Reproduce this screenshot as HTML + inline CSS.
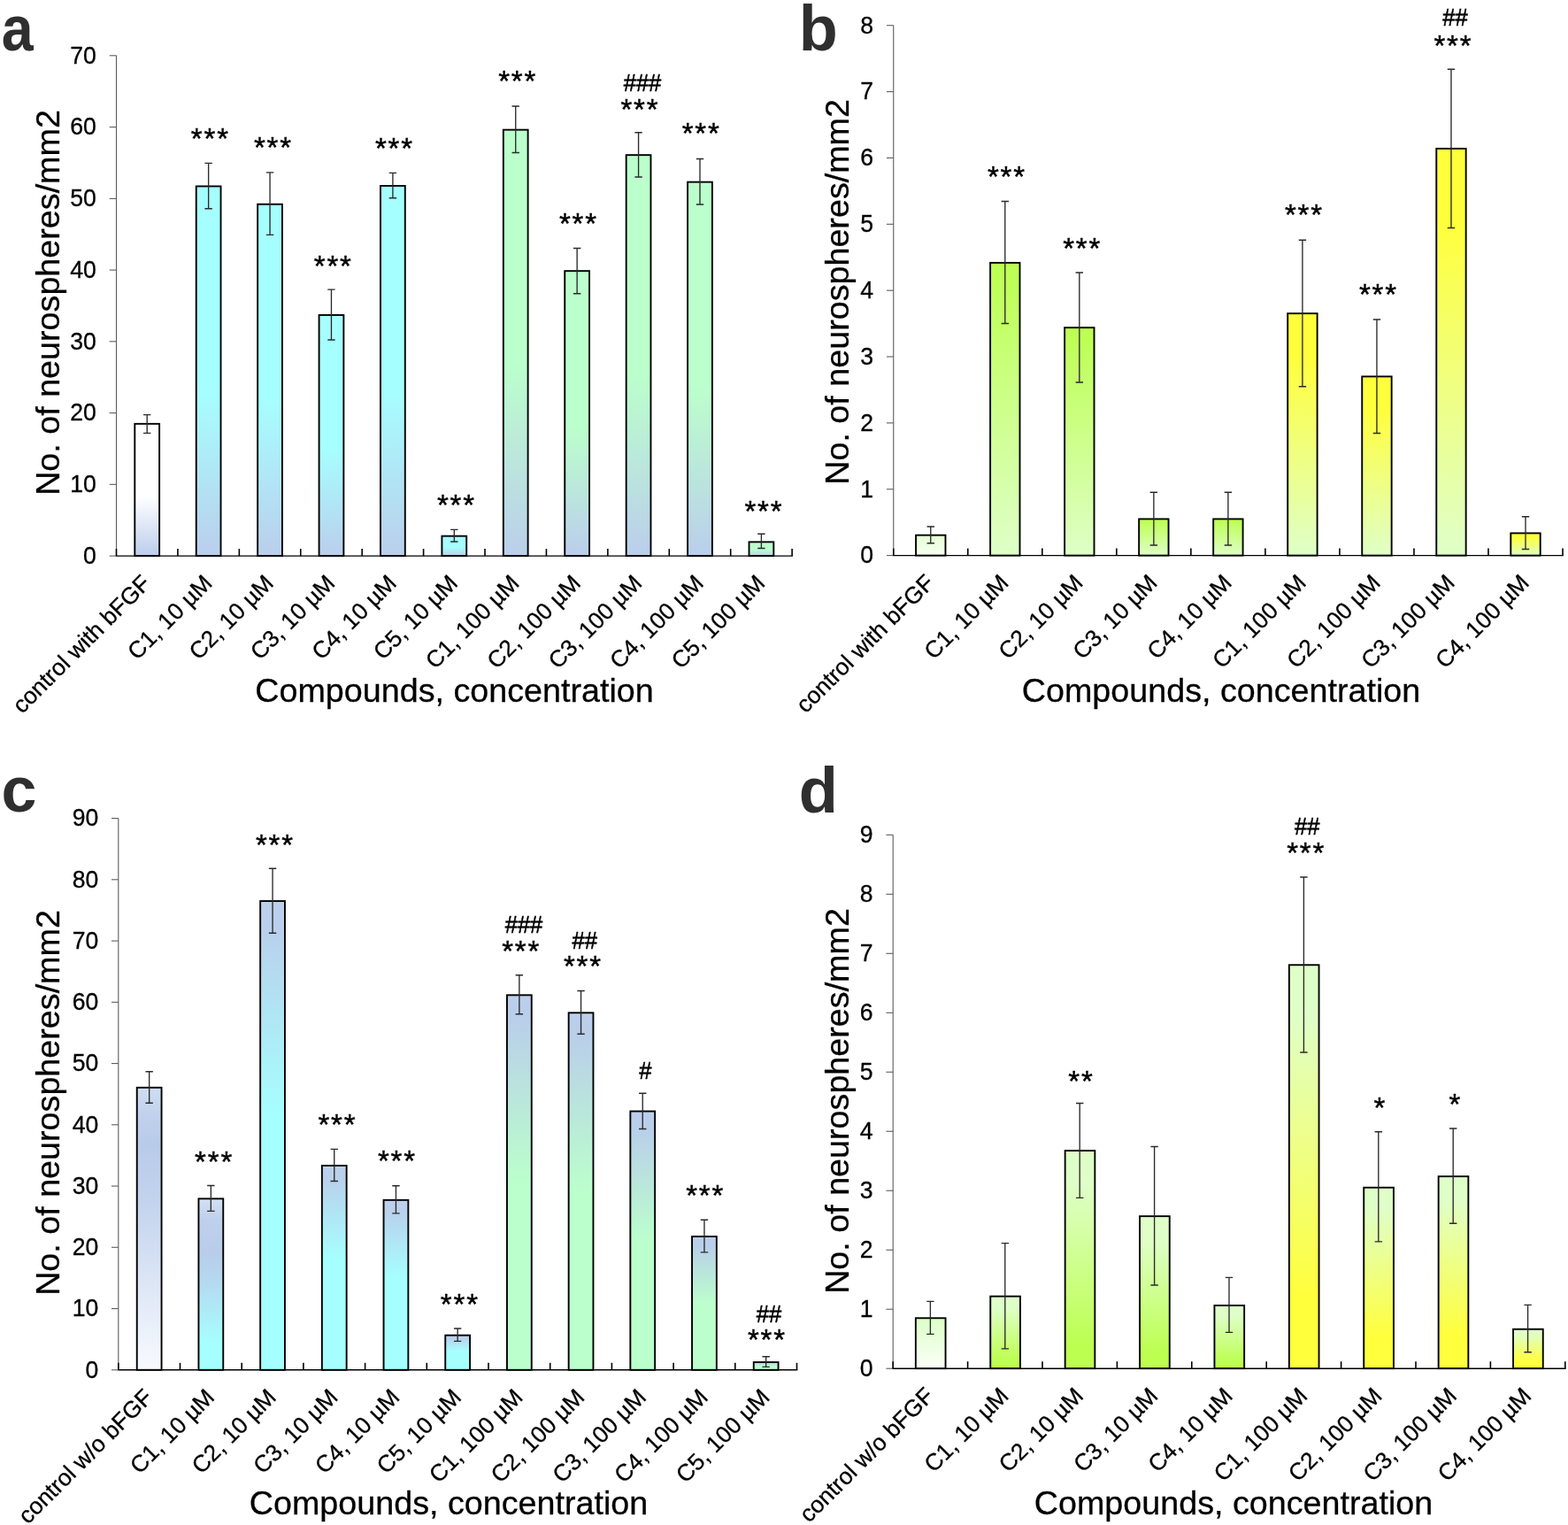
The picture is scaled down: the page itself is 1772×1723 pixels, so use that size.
<!DOCTYPE html>
<html lang="en">
<head>
<meta charset="utf-8">
<title>Neurosphere counts by compound and concentration</title>
<style>
html,body{margin:0;padding:0;background:#fff;}
body{width:1772px;height:1723px;overflow:hidden;}
svg{display:block;}
text{white-space:pre;}
</style>
</head>
<body>
<svg role="img" aria-label="Neurosphere counts, panels a to d" width="1772" height="1723" viewBox="0 0 1772 1723" font-family='"Liberation Sans", sans-serif'>
<defs>
<linearGradient id="gaw" x1="0" y1="0" x2="0" y2="1"><stop offset="0%" stop-color="#ffffff"/><stop offset="55%" stop-color="#ffffff"/><stop offset="100%" stop-color="#bccdeb"/></linearGradient>
<linearGradient id="gac" x1="0" y1="0" x2="0" y2="1"><stop offset="0%" stop-color="#a6ffff"/><stop offset="55%" stop-color="#a6ffff"/><stop offset="100%" stop-color="#bbceec"/></linearGradient>
<linearGradient id="gag" x1="0" y1="0" x2="0" y2="1"><stop offset="0%" stop-color="#bbffcc"/><stop offset="55%" stop-color="#bbffcc"/><stop offset="100%" stop-color="#bbceec"/></linearGradient>
<linearGradient id="gbw" x1="0" y1="0" x2="0" y2="1"><stop offset="0%" stop-color="#e6ffd6"/><stop offset="100%" stop-color="#f6fff0"/></linearGradient>
<linearGradient id="gby" x1="0" y1="0" x2="0" y2="1"><stop offset="0%" stop-color="#bcff50"/><stop offset="100%" stop-color="#dfffc8"/></linearGradient>
<linearGradient id="gbY" x1="0" y1="0" x2="0" y2="1"><stop offset="0%" stop-color="#ffff3c"/><stop offset="18%" stop-color="#ffff3c"/><stop offset="100%" stop-color="#dfffc8"/></linearGradient>
<linearGradient id="gcw" x1="0" y1="0" x2="0" y2="1"><stop offset="0%" stop-color="#d0def2"/><stop offset="10%" stop-color="#c0d1ec"/><stop offset="20%" stop-color="#b8cbe9"/><stop offset="40%" stop-color="#c2d3ed"/><stop offset="100%" stop-color="#f8fafe"/></linearGradient>
<linearGradient id="gcc" x1="0" y1="0" x2="0" y2="1"><stop offset="0%" stop-color="#bdd0ec"/><stop offset="6%" stop-color="#b9d0ec"/><stop offset="46%" stop-color="#a6ffff"/><stop offset="100%" stop-color="#a6ffff"/></linearGradient>
<linearGradient id="gcc2" x1="0" y1="0" x2="0" y2="1"><stop offset="0%" stop-color="#d4e1f3"/><stop offset="12%" stop-color="#bed0ec"/><stop offset="32%" stop-color="#b8cdea"/><stop offset="50%" stop-color="#b4dbf0"/><stop offset="85%" stop-color="#a6ffff"/><stop offset="100%" stop-color="#a6ffff"/></linearGradient>
<linearGradient id="gcg" x1="0" y1="0" x2="0" y2="1"><stop offset="0%" stop-color="#bccfec"/><stop offset="6%" stop-color="#b9ceea"/><stop offset="50%" stop-color="#bbffcc"/><stop offset="100%" stop-color="#bbffcc"/></linearGradient>
<linearGradient id="gdw" x1="0" y1="0" x2="0" y2="1"><stop offset="0%" stop-color="#dcffc8"/><stop offset="100%" stop-color="#fbfff8"/></linearGradient>
<linearGradient id="gdy" x1="0" y1="0" x2="0" y2="1"><stop offset="0%" stop-color="#dfffc8"/><stop offset="15%" stop-color="#dfffc8"/><stop offset="90%" stop-color="#bcff50"/><stop offset="100%" stop-color="#bcff50"/></linearGradient>
<linearGradient id="gdY" x1="0" y1="0" x2="0" y2="1"><stop offset="0%" stop-color="#dfffc8"/><stop offset="12%" stop-color="#dfffc8"/><stop offset="82%" stop-color="#ffff3c"/><stop offset="100%" stop-color="#ffff3c"/></linearGradient>
</defs>
<rect width="1772" height="1723" fill="#fff"/>
<g id="chart-a">
<text transform="translate(1.81 56.7) scale(0.902 1)" font-size="71.55" font-weight="bold" fill="#2f2f2f">a</text>
<g stroke="#5c5c5c" stroke-width="1.1" fill="none">
<line x1="131.5" y1="62.8" x2="131.5" y2="628.1"/>
<line x1="123.7" y1="628.1" x2="131.5" y2="628.1"/>
<line x1="123.7" y1="547.3" x2="131.5" y2="547.3"/>
<line x1="123.7" y1="466.6" x2="131.5" y2="466.6"/>
<line x1="123.7" y1="385.8" x2="131.5" y2="385.8"/>
<line x1="123.7" y1="305.1" x2="131.5" y2="305.1"/>
<line x1="123.7" y1="224.4" x2="131.5" y2="224.4"/>
<line x1="123.7" y1="143.6" x2="131.5" y2="143.6"/>
<line x1="123.7" y1="62.8" x2="131.5" y2="62.8"/>
</g>
<g font-size="26.6" text-anchor="end" fill="#000" stroke="#000" stroke-width="0.3">
<text transform="translate(108.9 636.92) scale(1 1.04)">0</text>
<text transform="translate(108.9 556.12) scale(1 1.04)">10</text>
<text transform="translate(108.9 475.42) scale(1 1.04)">20</text>
<text transform="translate(108.9 394.62) scale(1 1.04)">30</text>
<text transform="translate(108.9 313.92) scale(1 1.04)">40</text>
<text transform="translate(108.9 233.22) scale(1 1.04)">50</text>
<text transform="translate(108.9 152.42) scale(1 1.04)">60</text>
<text transform="translate(108.9 71.62) scale(1 1.04)">70</text>
</g>
<g stroke="#000" stroke-width="1.9">
<rect x="152.31" y="478.85" width="27.8" height="149.25" fill="url(#gaw)"/>
<rect x="221.73" y="210.45" width="27.8" height="417.65" fill="url(#gac)"/>
<rect x="291.15" y="230.75" width="27.8" height="397.35" fill="url(#gac)"/>
<rect x="360.57" y="355.95" width="27.8" height="272.15" fill="url(#gac)"/>
<rect x="429.99" y="209.95" width="27.8" height="418.15" fill="url(#gac)"/>
<rect x="499.41" y="605.65" width="27.8" height="22.45" fill="url(#gac)"/>
<rect x="568.83" y="146.65" width="27.8" height="481.45" fill="url(#gag)"/>
<rect x="638.25" y="306.15" width="27.8" height="321.95" fill="url(#gag)"/>
<rect x="707.67" y="175.15" width="27.8" height="452.95" fill="url(#gag)"/>
<rect x="777.09" y="205.65" width="27.8" height="422.45" fill="url(#gag)"/>
<rect x="846.51" y="612.35" width="27.8" height="15.75" fill="url(#gag)"/>
</g>
<g stroke="#000" fill="none">
<line x1="131" y1="628.1" x2="895.92" y2="628.1" stroke-width="1.4"/>
<line x1="131.5" y1="620.1" x2="131.5" y2="628.1" stroke-width="1.6"/>
<line x1="200.92" y1="620.1" x2="200.92" y2="628.1" stroke-width="1.6"/>
<line x1="270.34" y1="620.1" x2="270.34" y2="628.1" stroke-width="1.6"/>
<line x1="339.76" y1="620.1" x2="339.76" y2="628.1" stroke-width="1.6"/>
<line x1="409.18" y1="620.1" x2="409.18" y2="628.1" stroke-width="1.6"/>
<line x1="478.6" y1="620.1" x2="478.6" y2="628.1" stroke-width="1.6"/>
<line x1="548.02" y1="620.1" x2="548.02" y2="628.1" stroke-width="1.6"/>
<line x1="617.44" y1="620.1" x2="617.44" y2="628.1" stroke-width="1.6"/>
<line x1="686.86" y1="620.1" x2="686.86" y2="628.1" stroke-width="1.6"/>
<line x1="756.28" y1="620.1" x2="756.28" y2="628.1" stroke-width="1.6"/>
<line x1="825.7" y1="620.1" x2="825.7" y2="628.1" stroke-width="1.6"/>
<line x1="895.12" y1="620.1" x2="895.12" y2="628.1" stroke-width="1.6"/>
</g>
<g stroke="#2a2a2a" stroke-width="1.35" fill="none">
<path d="M162.01 468.6H170.41M162.01 489.4H170.41M166.21 468.6V489.4"/>
<path d="M231.43 184.4H239.83M231.43 235.7H239.83M235.63 184.4V235.7"/>
<path d="M300.85 194.8H309.25M300.85 265.4H309.25M305.05 194.8V265.4"/>
<path d="M370.27 327.1H378.67M370.27 384H378.67M374.47 327.1V384"/>
<path d="M439.69 195.3H448.09M439.69 223.7H448.09M443.89 195.3V223.7"/>
<path d="M509.11 598.3H517.51M509.11 612H517.51M513.31 598.3V612"/>
<path d="M578.53 120H586.93M578.53 172.5H586.93M582.73 120V172.5"/>
<path d="M647.95 280.5H656.35M647.95 331.75H656.35M652.15 280.5V331.75"/>
<path d="M717.37 149.75H725.77M717.37 200H725.77M721.57 149.75V200"/>
<path d="M786.79 179.5H795.19M786.79 231H795.19M790.99 179.5V231"/>
<path d="M856.21 603.25H864.61M856.21 619.5H864.61M860.41 603.25V619.5"/>
</g>
<g font-size="26.3" text-anchor="end" fill="#000" stroke="#000" stroke-width="0.3">
<text transform="translate(171.71 660.6) rotate(-45)">control with bFGF</text>
<text transform="translate(241.13 660.6) rotate(-45)">C1, 10 µM</text>
<text transform="translate(310.55 660.6) rotate(-45)">C2, 10 µM</text>
<text transform="translate(379.97 660.6) rotate(-45)">C3, 10 µM</text>
<text transform="translate(449.39 660.6) rotate(-45)">C4, 10 µM</text>
<text transform="translate(518.81 660.6) rotate(-45)">C5, 10 µM</text>
<text transform="translate(588.23 660.6) rotate(-45)">C1, 100 µM</text>
<text transform="translate(657.65 660.6) rotate(-45)">C2, 100 µM</text>
<text transform="translate(727.07 660.6) rotate(-45)">C3, 100 µM</text>
<text transform="translate(796.49 660.6) rotate(-45)">C4, 100 µM</text>
<text transform="translate(865.91 660.6) rotate(-45)">C5, 100 µM</text>
</g>
<g text-anchor="middle" fill="#000">
<text x="237.83" y="168.31" font-size="33" letter-spacing="1.85" stroke="#000" stroke-width="0.4">***</text>
<text x="308.93" y="177.81" font-size="33" letter-spacing="1.85" stroke="#000" stroke-width="0.4">***</text>
<text x="376.73" y="311.81" font-size="33" letter-spacing="1.85" stroke="#000" stroke-width="0.4">***</text>
<text x="445.93" y="179.31" font-size="33" letter-spacing="1.85" stroke="#000" stroke-width="0.4">***</text>
<text x="515.92" y="582.31" font-size="33" letter-spacing="1.85" stroke="#000" stroke-width="0.4">***</text>
<text x="585.17" y="102.81" font-size="33" letter-spacing="1.85" stroke="#000" stroke-width="0.4">***</text>
<text x="653.92" y="264.31" font-size="33" letter-spacing="1.85" stroke="#000" stroke-width="0.4">***</text>
<text transform="translate(726 102.54) scale(1 1.09)" font-size="25.6" stroke="#000" stroke-width="0.5">###</text>
<text x="723.42" y="134.71" font-size="33" letter-spacing="1.85" stroke="#000" stroke-width="0.4">***</text>
<text x="792.67" y="162.31" font-size="33" letter-spacing="1.85" stroke="#000" stroke-width="0.4">***</text>
<text x="863.42" y="589.31" font-size="33" letter-spacing="1.85" stroke="#000" stroke-width="0.4">***</text>
</g>
<text transform="translate(66.6 342) rotate(-90)" font-size="37.7" text-anchor="middle" fill="#000" stroke="#000" stroke-width="0.3">No. of neurospheres/mm2</text>
<text x="513.5" y="793" font-size="37.7" text-anchor="middle" fill="#000" stroke="#000" stroke-width="0.3">Compounds, concentration</text>
</g>
<g id="chart-b">
<text transform="translate(902.65 56.99) scale(0.996 1)" font-size="72.3" font-weight="bold" fill="#2f2f2f">b</text>
<g stroke="#5c5c5c" stroke-width="1.1" fill="none">
<line x1="1009.75" y1="28.72" x2="1009.75" y2="627.6"/>
<line x1="1001.95" y1="627.6" x2="1009.75" y2="627.6"/>
<line x1="1001.95" y1="552.74" x2="1009.75" y2="552.74"/>
<line x1="1001.95" y1="477.88" x2="1009.75" y2="477.88"/>
<line x1="1001.95" y1="403.02" x2="1009.75" y2="403.02"/>
<line x1="1001.95" y1="328.16" x2="1009.75" y2="328.16"/>
<line x1="1001.95" y1="253.3" x2="1009.75" y2="253.3"/>
<line x1="1001.95" y1="178.44" x2="1009.75" y2="178.44"/>
<line x1="1001.95" y1="103.58" x2="1009.75" y2="103.58"/>
<line x1="1001.95" y1="28.72" x2="1009.75" y2="28.72"/>
</g>
<g font-size="26.6" text-anchor="end" fill="#000" stroke="#000" stroke-width="0.3">
<text transform="translate(987.15 636.42) scale(1 1.04)">0</text>
<text transform="translate(987.15 561.56) scale(1 1.04)">1</text>
<text transform="translate(987.15 486.7) scale(1 1.04)">2</text>
<text transform="translate(987.15 411.84) scale(1 1.04)">3</text>
<text transform="translate(987.15 336.98) scale(1 1.04)">4</text>
<text transform="translate(987.15 262.12) scale(1 1.04)">5</text>
<text transform="translate(987.15 187.26) scale(1 1.04)">6</text>
<text transform="translate(987.15 112.4) scale(1 1.04)">7</text>
<text transform="translate(987.15 37.54) scale(1 1.04)">8</text>
</g>
<g stroke="#000" stroke-width="1.9">
<rect x="1035.07" y="604.65" width="33.4" height="22.95" fill="url(#gbw)"/>
<rect x="1119.1" y="296.9" width="33.4" height="330.7" fill="url(#gby)"/>
<rect x="1203.12" y="370.15" width="33.4" height="257.45" fill="url(#gby)"/>
<rect x="1287.15" y="586.4" width="33.4" height="41.2" fill="url(#gby)"/>
<rect x="1371.18" y="586.4" width="33.4" height="41.2" fill="url(#gby)"/>
<rect x="1455.21" y="354.15" width="33.4" height="273.45" fill="url(#gbY)"/>
<rect x="1539.25" y="425.4" width="33.4" height="202.2" fill="url(#gbY)"/>
<rect x="1623.27" y="167.9" width="33.4" height="459.7" fill="url(#gbY)"/>
<rect x="1707.31" y="602.4" width="33.4" height="25.2" fill="url(#gbY)"/>
</g>
<g stroke="#000" fill="none">
<line x1="1009.25" y1="627.6" x2="1766.82" y2="627.6" stroke-width="1.4"/>
<line x1="1009.75" y1="619.6" x2="1009.75" y2="627.6" stroke-width="1.6"/>
<line x1="1093.78" y1="619.6" x2="1093.78" y2="627.6" stroke-width="1.6"/>
<line x1="1177.81" y1="619.6" x2="1177.81" y2="627.6" stroke-width="1.6"/>
<line x1="1261.84" y1="619.6" x2="1261.84" y2="627.6" stroke-width="1.6"/>
<line x1="1345.87" y1="619.6" x2="1345.87" y2="627.6" stroke-width="1.6"/>
<line x1="1429.9" y1="619.6" x2="1429.9" y2="627.6" stroke-width="1.6"/>
<line x1="1513.93" y1="619.6" x2="1513.93" y2="627.6" stroke-width="1.6"/>
<line x1="1597.96" y1="619.6" x2="1597.96" y2="627.6" stroke-width="1.6"/>
<line x1="1681.99" y1="619.6" x2="1681.99" y2="627.6" stroke-width="1.6"/>
<line x1="1766.02" y1="619.6" x2="1766.02" y2="627.6" stroke-width="1.6"/>
</g>
<g stroke="#2a2a2a" stroke-width="1.35" fill="none">
<path d="M1047.57 595H1055.97M1047.57 613.75H1055.97M1051.77 595V613.75"/>
<path d="M1131.6 227.5H1140M1131.6 365.5H1140M1135.8 227.5V365.5"/>
<path d="M1215.62 308H1224.03M1215.62 432H1224.03M1219.83 308V432"/>
<path d="M1299.65 556.25H1308.06M1299.65 616H1308.06M1303.86 556.25V616"/>
<path d="M1383.68 556.25H1392.09M1383.68 616H1392.09M1387.88 556.25V616"/>
<path d="M1467.71 271.25H1476.12M1467.71 436.75H1476.12M1471.91 271.25V436.75"/>
<path d="M1551.75 361H1560.15M1551.75 489.5H1560.15M1555.95 361V489.5"/>
<path d="M1635.77 78.25H1644.17M1635.77 257.5H1644.17M1639.97 78.25V257.5"/>
<path d="M1719.81 583.75H1728.21M1719.81 620.5H1728.21M1724.01 583.75V620.5"/>
</g>
<g font-size="26.3" text-anchor="end" fill="#000" stroke="#000" stroke-width="0.3">
<text transform="translate(1057.27 660.1) rotate(-45)">control with bFGF</text>
<text transform="translate(1141.3 660.1) rotate(-45)">C1, 10 µM</text>
<text transform="translate(1225.33 660.1) rotate(-45)">C2, 10 µM</text>
<text transform="translate(1309.36 660.1) rotate(-45)">C3, 10 µM</text>
<text transform="translate(1393.38 660.1) rotate(-45)">C4, 10 µM</text>
<text transform="translate(1477.41 660.1) rotate(-45)">C1, 100 µM</text>
<text transform="translate(1561.45 660.1) rotate(-45)">C2, 100 µM</text>
<text transform="translate(1645.47 660.1) rotate(-45)">C3, 100 µM</text>
<text transform="translate(1729.51 660.1) rotate(-45)">C4, 100 µM</text>
</g>
<g text-anchor="middle" fill="#000">
<text x="1137.92" y="210.81" font-size="33" letter-spacing="1.85" stroke="#000" stroke-width="0.4">***</text>
<text x="1223.17" y="291.81" font-size="33" letter-spacing="1.85" stroke="#000" stroke-width="0.4">***</text>
<text x="1473.92" y="254.31" font-size="33" letter-spacing="1.85" stroke="#000" stroke-width="0.4">***</text>
<text x="1557.92" y="344.31" font-size="33" letter-spacing="1.85" stroke="#000" stroke-width="0.4">***</text>
<text transform="translate(1644.5 29.04) scale(1 1.09)" font-size="25.6" stroke="#000" stroke-width="0.5">##</text>
<text x="1642.42" y="63.11" font-size="33" letter-spacing="1.85" stroke="#000" stroke-width="0.4">***</text>
</g>
<text transform="translate(958.6 329.9) rotate(-90)" font-size="37.7" text-anchor="middle" fill="#000" stroke="#000" stroke-width="0.3">No. of neurospheres/mm2</text>
<text x="1380" y="793" font-size="37.7" text-anchor="middle" fill="#000" stroke="#000" stroke-width="0.3">Compounds, concentration</text>
</g>
<g id="chart-c">
<text transform="translate(1.39 916.6) scale(1.005 1)" font-size="71.36" font-weight="bold" fill="#2f2f2f">c</text>
<g stroke="#5c5c5c" stroke-width="1.1" fill="none">
<line x1="133.8" y1="924.55" x2="133.8" y2="1547.8"/>
<line x1="126" y1="1547.8" x2="133.8" y2="1547.8"/>
<line x1="126" y1="1478.55" x2="133.8" y2="1478.55"/>
<line x1="126" y1="1409.3" x2="133.8" y2="1409.3"/>
<line x1="126" y1="1340.05" x2="133.8" y2="1340.05"/>
<line x1="126" y1="1270.8" x2="133.8" y2="1270.8"/>
<line x1="126" y1="1201.55" x2="133.8" y2="1201.55"/>
<line x1="126" y1="1132.3" x2="133.8" y2="1132.3"/>
<line x1="126" y1="1063.05" x2="133.8" y2="1063.05"/>
<line x1="126" y1="993.8" x2="133.8" y2="993.8"/>
<line x1="126" y1="924.55" x2="133.8" y2="924.55"/>
</g>
<g font-size="26.6" text-anchor="end" fill="#000" stroke="#000" stroke-width="0.3">
<text transform="translate(111.2 1556.62) scale(1 1.04)">0</text>
<text transform="translate(111.2 1487.37) scale(1 1.04)">10</text>
<text transform="translate(111.2 1418.12) scale(1 1.04)">20</text>
<text transform="translate(111.2 1348.87) scale(1 1.04)">30</text>
<text transform="translate(111.2 1279.62) scale(1 1.04)">40</text>
<text transform="translate(111.2 1210.37) scale(1 1.04)">50</text>
<text transform="translate(111.2 1141.12) scale(1 1.04)">60</text>
<text transform="translate(111.2 1071.87) scale(1 1.04)">70</text>
<text transform="translate(111.2 1002.62) scale(1 1.04)">80</text>
<text transform="translate(111.2 933.37) scale(1 1.04)">90</text>
</g>
<g stroke="#000" stroke-width="1.9">
<rect x="154.75" y="1228.8" width="27.8" height="319" fill="url(#gcw)"/>
<rect x="224.45" y="1354.35" width="27.8" height="193.45" fill="url(#gcc2)"/>
<rect x="294.15" y="1018.05" width="27.8" height="529.75" fill="url(#gcc)"/>
<rect x="363.85" y="1316.95" width="27.8" height="230.85" fill="url(#gcc)"/>
<rect x="433.55" y="1355.85" width="27.8" height="191.95" fill="url(#gcc)"/>
<rect x="503.25" y="1508.65" width="27.8" height="39.15" fill="url(#gcc)"/>
<rect x="572.95" y="1124.3" width="27.8" height="423.5" fill="url(#gcg)"/>
<rect x="642.65" y="1144.3" width="27.8" height="403.5" fill="url(#gcg)"/>
<rect x="712.35" y="1255.55" width="27.8" height="292.25" fill="url(#gcg)"/>
<rect x="782.05" y="1397.05" width="27.8" height="150.75" fill="url(#gcg)"/>
<rect x="851.75" y="1539.05" width="27.8" height="8.75" fill="url(#gcg)"/>
</g>
<g stroke="#000" fill="none">
<line x1="133.3" y1="1547.8" x2="901.3" y2="1547.8" stroke-width="1.4"/>
<line x1="133.8" y1="1539.8" x2="133.8" y2="1547.8" stroke-width="1.6"/>
<line x1="203.5" y1="1539.8" x2="203.5" y2="1547.8" stroke-width="1.6"/>
<line x1="273.2" y1="1539.8" x2="273.2" y2="1547.8" stroke-width="1.6"/>
<line x1="342.9" y1="1539.8" x2="342.9" y2="1547.8" stroke-width="1.6"/>
<line x1="412.6" y1="1539.8" x2="412.6" y2="1547.8" stroke-width="1.6"/>
<line x1="482.3" y1="1539.8" x2="482.3" y2="1547.8" stroke-width="1.6"/>
<line x1="552" y1="1539.8" x2="552" y2="1547.8" stroke-width="1.6"/>
<line x1="621.7" y1="1539.8" x2="621.7" y2="1547.8" stroke-width="1.6"/>
<line x1="691.4" y1="1539.8" x2="691.4" y2="1547.8" stroke-width="1.6"/>
<line x1="761.1" y1="1539.8" x2="761.1" y2="1547.8" stroke-width="1.6"/>
<line x1="830.8" y1="1539.8" x2="830.8" y2="1547.8" stroke-width="1.6"/>
<line x1="900.5" y1="1539.8" x2="900.5" y2="1547.8" stroke-width="1.6"/>
</g>
<g stroke="#2a2a2a" stroke-width="1.35" fill="none">
<path d="M164.45 1210.75H172.85M164.45 1246.25H172.85M168.65 1210.75V1246.25"/>
<path d="M234.15 1339.5H242.55M234.15 1368.4H242.55M238.35 1339.5V1368.4"/>
<path d="M303.85 981.25H312.25M303.85 1054.25H312.25M308.05 981.25V1054.25"/>
<path d="M373.55 1298.3H381.95M373.55 1334.5H381.95M377.75 1298.3V1334.5"/>
<path d="M443.25 1339.75H451.65M443.25 1370.9H451.65M447.45 1339.75V1370.9"/>
<path d="M512.95 1501H521.35M512.95 1515.4H521.35M517.15 1501V1515.4"/>
<path d="M582.65 1101.75H591.05M582.65 1145.75H591.05M586.85 1101.75V1145.75"/>
<path d="M652.35 1119.5H660.75M652.35 1168.25H660.75M656.55 1119.5V1168.25"/>
<path d="M722.05 1235.25H730.45M722.05 1275.5H730.45M726.25 1235.25V1275.5"/>
<path d="M791.75 1378.2H800.15M791.75 1414.9H800.15M795.95 1378.2V1414.9"/>
<path d="M861.45 1532.7H869.85M861.45 1544.3H869.85M865.65 1532.7V1544.3"/>
</g>
<g font-size="26.3" text-anchor="end" fill="#000" stroke="#000" stroke-width="0.3">
<text transform="translate(174.15 1580.3) rotate(-45)">control w/o bFGF</text>
<text transform="translate(243.85 1580.3) rotate(-45)">C1, 10 µM</text>
<text transform="translate(313.55 1580.3) rotate(-45)">C2, 10 µM</text>
<text transform="translate(383.25 1580.3) rotate(-45)">C3, 10 µM</text>
<text transform="translate(452.95 1580.3) rotate(-45)">C4, 10 µM</text>
<text transform="translate(522.65 1580.3) rotate(-45)">C5, 10 µM</text>
<text transform="translate(592.35 1580.3) rotate(-45)">C1, 100 µM</text>
<text transform="translate(662.05 1580.3) rotate(-45)">C2, 100 µM</text>
<text transform="translate(731.75 1580.3) rotate(-45)">C3, 100 µM</text>
<text transform="translate(801.45 1580.3) rotate(-45)">C4, 100 µM</text>
<text transform="translate(871.15 1580.3) rotate(-45)">C5, 100 µM</text>
</g>
<g text-anchor="middle" fill="#000">
<text x="242.12" y="1323.51" font-size="33" letter-spacing="1.85" stroke="#000" stroke-width="0.4">***</text>
<text x="310.93" y="965.91" font-size="33" letter-spacing="1.85" stroke="#000" stroke-width="0.4">***</text>
<text x="381.43" y="1281.51" font-size="33" letter-spacing="1.85" stroke="#000" stroke-width="0.4">***</text>
<text x="448.93" y="1323.31" font-size="33" letter-spacing="1.85" stroke="#000" stroke-width="0.4">***</text>
<text x="519.82" y="1485.11" font-size="33" letter-spacing="1.85" stroke="#000" stroke-width="0.4">***</text>
<text transform="translate(592 1054.29) scale(1 1.09)" font-size="25.6" stroke="#000" stroke-width="0.5">###</text>
<text x="589.17" y="1085.71" font-size="33" letter-spacing="1.85" stroke="#000" stroke-width="0.4">***</text>
<text transform="translate(660.75 1072.29) scale(1 1.09)" font-size="25.6" stroke="#000" stroke-width="0.5">##</text>
<text x="658.92" y="1102.81" font-size="33" letter-spacing="1.85" stroke="#000" stroke-width="0.4">***</text>
<text transform="translate(729.25 1218.94) scale(1 1.09)" font-size="25.6" stroke="#000" stroke-width="0.5">#</text>
<text x="797.22" y="1361.71" font-size="33" letter-spacing="1.85" stroke="#000" stroke-width="0.4">***</text>
<text transform="translate(869 1494.04) scale(1 1.09)" font-size="25.6" stroke="#000" stroke-width="0.5">##</text>
<text x="866.92" y="1524.91" font-size="33" letter-spacing="1.85" stroke="#000" stroke-width="0.4">***</text>
</g>
<text transform="translate(67 1246) rotate(-90)" font-size="37.7" text-anchor="middle" fill="#000" stroke="#000" stroke-width="0.3">No. of neurospheres/mm2</text>
<text x="507" y="1711" font-size="37.7" text-anchor="middle" fill="#000" stroke="#000" stroke-width="0.3">Compounds, concentration</text>
</g>
<g id="chart-d">
<text transform="translate(902.74 918.3) scale(1.009 1)" font-size="71.62" font-weight="bold" fill="#2f2f2f">d</text>
<g stroke="#5c5c5c" stroke-width="1.1" fill="none">
<line x1="1009.2" y1="943.29" x2="1009.2" y2="1546.2"/>
<line x1="1001.4" y1="1546.2" x2="1009.2" y2="1546.2"/>
<line x1="1001.4" y1="1479.21" x2="1009.2" y2="1479.21"/>
<line x1="1001.4" y1="1412.22" x2="1009.2" y2="1412.22"/>
<line x1="1001.4" y1="1345.23" x2="1009.2" y2="1345.23"/>
<line x1="1001.4" y1="1278.24" x2="1009.2" y2="1278.24"/>
<line x1="1001.4" y1="1211.25" x2="1009.2" y2="1211.25"/>
<line x1="1001.4" y1="1144.26" x2="1009.2" y2="1144.26"/>
<line x1="1001.4" y1="1077.27" x2="1009.2" y2="1077.27"/>
<line x1="1001.4" y1="1010.28" x2="1009.2" y2="1010.28"/>
<line x1="1001.4" y1="943.29" x2="1009.2" y2="943.29"/>
</g>
<g font-size="26.6" text-anchor="end" fill="#000" stroke="#000" stroke-width="0.3">
<text transform="translate(986.6 1555.02) scale(1 1.04)">0</text>
<text transform="translate(986.6 1488.03) scale(1 1.04)">1</text>
<text transform="translate(986.6 1421.04) scale(1 1.04)">2</text>
<text transform="translate(986.6 1354.05) scale(1 1.04)">3</text>
<text transform="translate(986.6 1287.06) scale(1 1.04)">4</text>
<text transform="translate(986.6 1220.07) scale(1 1.04)">5</text>
<text transform="translate(986.6 1153.08) scale(1 1.04)">6</text>
<text transform="translate(986.6 1086.09) scale(1 1.04)">7</text>
<text transform="translate(986.6 1019.1) scale(1 1.04)">8</text>
<text transform="translate(986.6 952.11) scale(1 1.04)">9</text>
</g>
<g stroke="#000" stroke-width="1.9">
<rect x="1034.85" y="1489.25" width="33.7" height="56.95" fill="url(#gdw)"/>
<rect x="1119.25" y="1464.65" width="33.7" height="81.55" fill="url(#gdy)"/>
<rect x="1203.65" y="1300.05" width="33.7" height="246.15" fill="url(#gdy)"/>
<rect x="1288.05" y="1374.15" width="33.7" height="172.05" fill="url(#gdy)"/>
<rect x="1372.45" y="1474.95" width="33.7" height="71.25" fill="url(#gdy)"/>
<rect x="1456.85" y="1090.25" width="33.7" height="455.95" fill="url(#gdY)"/>
<rect x="1541.25" y="1341.75" width="33.7" height="204.45" fill="url(#gdY)"/>
<rect x="1625.65" y="1329.15" width="33.7" height="217.05" fill="url(#gdY)"/>
<rect x="1710.05" y="1501.75" width="33.7" height="44.45" fill="url(#gdY)"/>
</g>
<g stroke="#000" fill="none">
<line x1="1008.7" y1="1546.2" x2="1769.6" y2="1546.2" stroke-width="1.4"/>
<line x1="1009.2" y1="1538.2" x2="1009.2" y2="1546.2" stroke-width="1.6"/>
<line x1="1093.6" y1="1538.2" x2="1093.6" y2="1546.2" stroke-width="1.6"/>
<line x1="1178" y1="1538.2" x2="1178" y2="1546.2" stroke-width="1.6"/>
<line x1="1262.4" y1="1538.2" x2="1262.4" y2="1546.2" stroke-width="1.6"/>
<line x1="1346.8" y1="1538.2" x2="1346.8" y2="1546.2" stroke-width="1.6"/>
<line x1="1431.2" y1="1538.2" x2="1431.2" y2="1546.2" stroke-width="1.6"/>
<line x1="1515.6" y1="1538.2" x2="1515.6" y2="1546.2" stroke-width="1.6"/>
<line x1="1600" y1="1538.2" x2="1600" y2="1546.2" stroke-width="1.6"/>
<line x1="1684.4" y1="1538.2" x2="1684.4" y2="1546.2" stroke-width="1.6"/>
<line x1="1768.8" y1="1538.2" x2="1768.8" y2="1546.2" stroke-width="1.6"/>
</g>
<g stroke="#2a2a2a" stroke-width="1.35" fill="none">
<path d="M1047.2 1470.4H1055.6M1047.2 1507.3H1055.6M1051.4 1470.4V1507.3"/>
<path d="M1131.6 1404.6H1140M1131.6 1523.9H1140M1135.8 1404.6V1523.9"/>
<path d="M1216 1246.5H1224.4M1216 1353.3H1224.4M1220.2 1246.5V1353.3"/>
<path d="M1300.4 1295.5H1308.8M1300.4 1452H1308.8M1304.6 1295.5V1452"/>
<path d="M1384.8 1443.3H1393.2M1384.8 1505.3H1393.2M1389 1443.3V1505.3"/>
<path d="M1469.2 991H1477.6M1469.2 1189H1477.6M1473.4 991V1189"/>
<path d="M1553.6 1278.75H1562M1553.6 1402.8H1562M1557.8 1278.75V1402.8"/>
<path d="M1638 1275H1646.4M1638 1382.2H1646.4M1642.2 1275V1382.2"/>
<path d="M1722.4 1474.4H1730.8M1722.4 1527.7H1730.8M1726.6 1474.4V1527.7"/>
</g>
<g font-size="26.3" text-anchor="end" fill="#000" stroke="#000" stroke-width="0.3">
<text transform="translate(1056.9 1578.7) rotate(-45)">control w/o bFGF</text>
<text transform="translate(1141.3 1578.7) rotate(-45)">C1, 10 µM</text>
<text transform="translate(1225.7 1578.7) rotate(-45)">C2, 10 µM</text>
<text transform="translate(1310.1 1578.7) rotate(-45)">C3, 10 µM</text>
<text transform="translate(1394.5 1578.7) rotate(-45)">C4, 10 µM</text>
<text transform="translate(1478.9 1578.7) rotate(-45)">C1, 100 µM</text>
<text transform="translate(1563.3 1578.7) rotate(-45)">C2, 100 µM</text>
<text transform="translate(1647.7 1578.7) rotate(-45)">C3, 100 µM</text>
<text transform="translate(1732.1 1578.7) rotate(-45)">C4, 100 µM</text>
</g>
<g text-anchor="middle" fill="#000">
<text x="1221.92" y="1233.06" font-size="33" letter-spacing="1.85" stroke="#000" stroke-width="0.4">**</text>
<text transform="translate(1477.25 942.54) scale(1 1.09)" font-size="25.6" stroke="#000" stroke-width="0.5">##</text>
<text x="1476.17" y="974.81" font-size="33" letter-spacing="1.85" stroke="#000" stroke-width="0.4">***</text>
<text x="1559.92" y="1263.21" font-size="33" letter-spacing="1.85" stroke="#000" stroke-width="0.4">*</text>
<text x="1644.92" y="1259.06" font-size="33" letter-spacing="1.85" stroke="#000" stroke-width="0.4">*</text>
</g>
<text transform="translate(959.2 1244) rotate(-90)" font-size="37.7" text-anchor="middle" fill="#000" stroke="#000" stroke-width="0.3">No. of neurospheres/mm2</text>
<text x="1394" y="1711" font-size="37.7" text-anchor="middle" fill="#000" stroke="#000" stroke-width="0.3">Compounds, concentration</text>
</g>
</svg>
</body>
</html>
